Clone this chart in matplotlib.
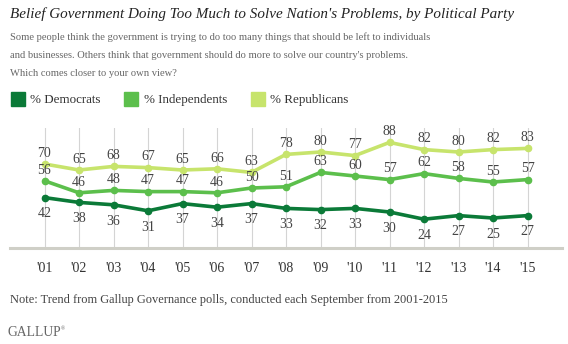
import numpy as np
import matplotlib.pyplot as plt
from matplotlib.lines import Line2D

# Gallup Governance polls, September of each year
years = np.arange(2001, 2016)
year_labels = ["'01", "'02", "'03", "'04", "'05", "'06", "'07", "'08",
               "'09", "'10", "'11", "'12", "'13", "'14", "'15"]
democrats = [42, 38, 36, 31, 37, 34, 37, 33, 32, 33, 30, 24, 27, 25, 27]
independents = [56, 46, 48, 47, 47, 46, 50, 51, 63, 60, 57, 62, 58, 55, 57]
republicans = [70, 65, 68, 67, 65, 66, 63, 78, 80, 77, 88, 82, 80, 82, 83]

plt.rcParams['font.family'] = ['Liberation Serif', 'DejaVu Serif']

W, H = 568, 344
fig = plt.figure(figsize=(W / 100, H / 100), dpi=100)


def fy(py):
    return 1 - py / H


# plot area: x from 10px to 562px, y from 128px (100%) to 248px (0%)
ax = fig.add_axes([10 / W, fy(248), 552 / W, 120 / H])
ax.set_xlim(2000, 2016)
ax.set_ylim(0, 100)

for x in years:
    ax.axvline(x, color='#d4d4d4', lw=0.8, zorder=0)
ax.axhline(0, color='#cfcfc7', lw=2.2, zorder=1, clip_on=False)

# name, values, colour, label offset (points; negative puts it below)
series = [
    ('% Democrats', democrats, '#0b7a38', -7),
    ('% Independents', independents, '#5cbf4c', 3),
    ('% Republicans', republicans, '#c7e46c', 3),
]
for name, vals, col, off in series:
    ax.plot(years, vals, color=col, lw=2.6, marker='o', ms=4.5,
            solid_joinstyle='round', zorder=3)
    for x, v in zip(years, vals):
        ax.annotate(str(v), (x, v), xytext=(0, off), textcoords='offset points',
                    ha='center', va='bottom' if off > 0 else 'top',
                    fontsize=10, color='#444444', zorder=4)

for s in ax.spines.values():
    s.set_visible(False)
ax.set_yticks([])
ax.set_xticks(years)
ax.set_xticklabels(year_labels, fontsize=10, color='#333333')
ax.tick_params(axis='x', length=0, pad=10)

fig.text(10 / W, fy(14), "Belief Government Doing Too Much to Solve Nation's Problems, by Political Party",
         fontsize=10.9, style='italic', color='#222222', va='center')
subtitle = ["Some people think the government is trying to do too many things that should be left to individuals",
            "and businesses. Others think that government should do more to solve our country's problems.",
            "Which comes closer to your own view?"]
for i, line in enumerate(subtitle):
    fig.text(10 / W, fy(37 + 18 * i), line, fontsize=7.6, color='#666666', va='center')

handles = [Line2D([], [], ls='none', marker='s', ms=10, color=c) for _, _, c, _ in series]
fig.legend(handles, [n for n, _, _, _ in series], loc='center left',
           bbox_to_anchor=(0, fy(100)), ncol=3, frameon=False,
           fontsize=9.4, handlelength=0.9, handletextpad=0.5, columnspacing=1.9,
           labelcolor='#333333')

fig.text(10 / W, fy(300), "Note: Trend from Gallup Governance polls, conducted each September from 2001-2015",
         fontsize=8.9, color='#444444', va='center')
fig.text(8 / W, fy(333), "GALLUP", fontsize=9.8, color='#666666', va='center')
fig.text(60.5 / W, fy(329), "\u00ae", fontsize=4, color='#666666', va='center')

fig.savefig('out.png', dpi=100)
